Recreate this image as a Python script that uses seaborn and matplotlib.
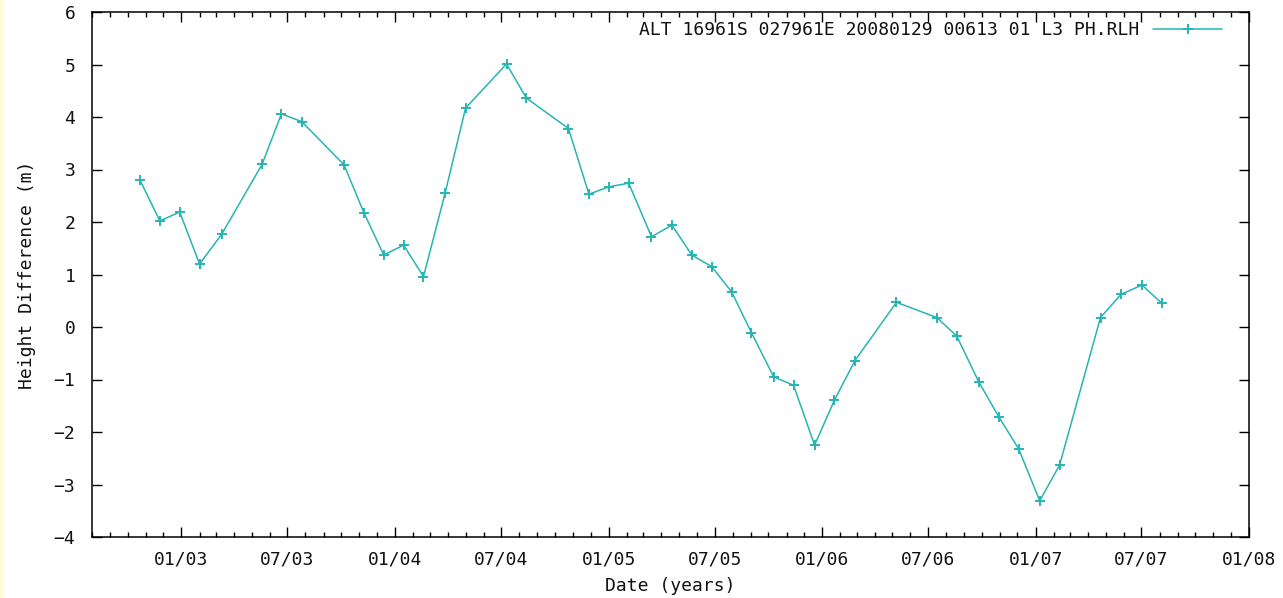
import matplotlib
matplotlib.use("Agg")
import matplotlib.pyplot as plt
import matplotlib.dates as mdates
from matplotlib.patches import Rectangle
import numpy as np
import pandas as pd
import seaborn as sns

# Altimetry height differences over time
dates = [
    "2002-10-22", "2002-11-25", "2002-12-29", "2003-02-01", "2003-03-11",
    "2003-05-19", "2003-06-21", "2003-07-26", "2003-10-06", "2003-11-09",
    "2003-12-13", "2004-01-16", "2004-02-19", "2004-03-27", "2004-05-01",
    "2004-07-10", "2004-08-13", "2004-10-24", "2004-11-28", "2005-01-01",
    "2005-02-04", "2005-03-15", "2005-04-19", "2005-05-23", "2005-06-26",
    "2005-07-30", "2005-09-02", "2005-10-10", "2005-11-13", "2005-12-19",
    "2006-01-22", "2006-02-26", "2006-05-08", "2006-07-16", "2006-08-19",
    "2006-09-26", "2006-10-30", "2006-12-03", "2007-01-08", "2007-02-11",
    "2007-04-22", "2007-05-27", "2007-07-02", "2007-08-05",
]
height_diff = [
    2.80, 2.02, 2.19, 1.20, 1.77,
    3.10, 4.06, 3.91, 3.09, 2.18,
    1.37, 1.56, 0.96, 2.55, 4.17,
    5.01, 4.36, 3.78, 2.53, 2.67,
    2.74, 1.72, 1.94, 1.37, 1.15,
    0.67, -0.11, -0.95, -1.11, -2.25,
    -1.39, -0.64, 0.47, 0.18, -0.17,
    -1.05, -1.71, -2.32, -3.31, -2.63,
    0.18, 0.62, 0.80, 0.45,
]
series_label = "ALT 16961S 027961E 20080129 00613 01 L3 PH.RLH"
y_ticks = [-4, -3, -2, -1, 0, 1, 2, 3, 4, 5, 6]

df = pd.DataFrame({"date": pd.to_datetime(dates), "height": height_diff})

sns.set_style("ticks")
plt.rcParams["font.family"] = ["DejaVu Sans Mono"]
fs = 13

line_color = "#27b4b4"

fig = plt.figure(figsize=(12.83, 5.98), dpi=100)
fig.patch.set_facecolor("white")
ax = fig.add_axes([92 / 1283, 1 - 537 / 598, (1249 - 92) / 1283, (537 - 12) / 598])

sns.lineplot(
    data=df, x="date", y="height", ax=ax, color=line_color,
    linewidth=1.1, marker="+", markersize=7, markeredgewidth=1.4,
    markeredgecolor=line_color, label=series_label, sort=False,
)

ax.set_xlim(pd.Timestamp("2002-08-01"), pd.Timestamp("2008-01-01"))
ax.set_ylim(-4, 6)
ax.set_yticks(y_ticks)

ax.xaxis.set_major_locator(mdates.MonthLocator(bymonth=[1, 7]))
ax.xaxis.set_minor_locator(mdates.MonthLocator())
ax.xaxis.set_major_formatter(mdates.DateFormatter("%m/%y"))

ax.tick_params(which="both", direction="in", top=True, right=True,
               color="black", width=1.0, labelsize=fs, labelcolor="#111111")
ax.tick_params(axis="x", which="major", length=7, pad=10)
ax.tick_params(axis="x", which="minor", length=3.5)
ax.tick_params(axis="y", which="major", length=7, pad=12)

for side in ["left", "right", "top", "bottom"]:
    ax.spines[side].set_visible(True)
    ax.spines[side].set_color("black")
    ax.spines[side].set_linewidth(1.1)

ax.set_xlabel("Date (years)", fontsize=fs, labelpad=6, color="#111111")
ax.set_ylabel("Height Difference (m)", fontsize=fs, labelpad=13, color="#111111")

leg = ax.legend(
    loc="center right", bbox_to_anchor=((1222 - 92) / 1157, 1 - (30 - 12) / 525),
    frameon=False, markerfirst=False, handlelength=3.8, handletextpad=0.8,
    borderpad=0, borderaxespad=0, fontsize=fs, numpoints=1,
)
for t in leg.get_texts():
    t.set_color("#111111")

# thin pale strip along the left edge
fig.patches.append(Rectangle((0, 0), 4 / 1283, 1, transform=fig.transFigure,
                             facecolor="#fbfbd8", edgecolor="none", zorder=0))

fig.savefig("out.png", dpi=100)
